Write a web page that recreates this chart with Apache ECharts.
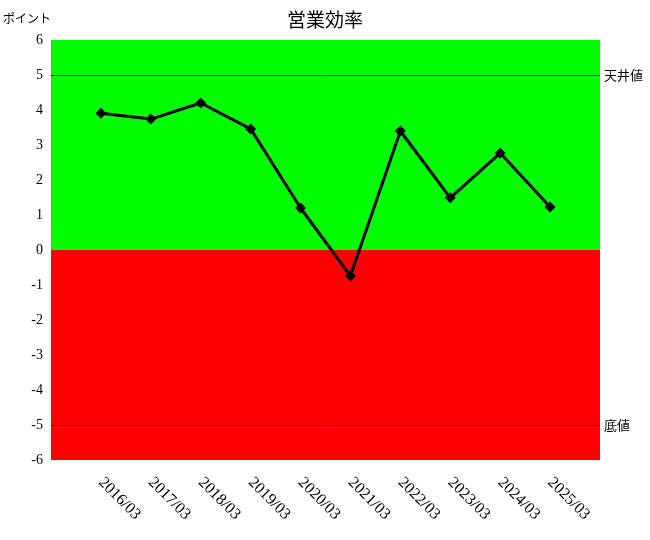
<!DOCTYPE html>
<html>
<head>
<meta charset="utf-8">
<script src="https://cdn.jsdelivr.net/npm/echarts@6/dist/echarts.min.js"></script>
<style>
  html, body { margin: 0; padding: 0; background: #fff; }
  #main { width: 650px; height: 540px; }
</style>
</head>
<body>
<div id="main"></div>
<script>
let categories = ["2016/03", "2017/03", "2018/03", "2019/03", "2020/03", "2021/03", "2022/03", "2023/03", "2024/03", "2025/03"];
let values = [3.91, 3.74, 4.2, 3.46, 1.2, -0.74, 3.4, 1.49, 2.77, 1.23];
let ceilingValue = 5;
let floorValue = -5;

let serif = "'Liberation Serif', 'DejaVu Serif', 'Noto Sans CJK JP', serif";
let cjk = "'Noto Sans CJK JP', sans-serif";

// 両端に空のカテゴリを入れて点を内側に寄せる
let xData = [""].concat(categories, [""]);
let yData = [null].concat(values, [null]);

let chart = echarts.init(document.getElementById("main"), null, { renderer: "canvas" });

let option = {
  animation: false,
  title: {
    text: "営業効率",
    left: "center",
    top: 5,
    textStyle: { fontFamily: cjk, fontSize: 19, fontWeight: "normal", color: "#000" },
  },
  grid: { left: 50, right: 50, top: 40, bottom: 80 },
  xAxis: {
    type: "category",
    data: xData,
    boundaryGap: false,
    axisLine: { show: false },
    axisTick: { show: false },
    splitLine: { show: false },
    axisLabel: {
      rotate: -45,
      interval: 0,
      margin: 20,
      color: "#000",
      fontFamily: serif,
      fontSize: 16,
    },
  },
  yAxis: {
    type: "value",
    min: -6,
    max: 6,
    interval: 1,
    name: "ポイント",
    nameLocation: "end",
    nameGap: 16,
    nameTextStyle: { fontFamily: cjk, fontSize: 12, color: "#000", align: "right" },
    axisLine: { show: false },
    axisTick: { show: false },
    splitLine: { show: false },
    axisLabel: { color: "#000", fontFamily: serif, fontSize: 14, margin: 8 },
  },
  series: [
    {
      type: "line",
      data: yData,
      symbol: "diamond",
      symbolSize: 11,
      lineStyle: { color: "#000", width: 3 },
      itemStyle: { color: "#000" },
      z: 5,
      markArea: {
        silent: true,
        data: [
          [{ yAxis: 0, itemStyle: { color: "#00ff00" } }, { yAxis: 6 }],
          [{ yAxis: -6, itemStyle: { color: "#ff0000" } }, { yAxis: 0 }],
        ],
      },
      markLine: {
        silent: true,
        symbol: "none",
        lineStyle: { color: "#0000aa", width: 1, type: "solid" },
        label: {
          position: "end",
          color: "#000",
          fontFamily: cjk,
          fontSize: 13,
          distance: 4,
        },
        data: [
          { yAxis: ceilingValue, label: { formatter: "天井値" } },
          { yAxis: floorValue, label: { formatter: "底値" } },
        ],
      },
    },
  ],
};

chart.setOption(option);
</script>
</body>
</html>
